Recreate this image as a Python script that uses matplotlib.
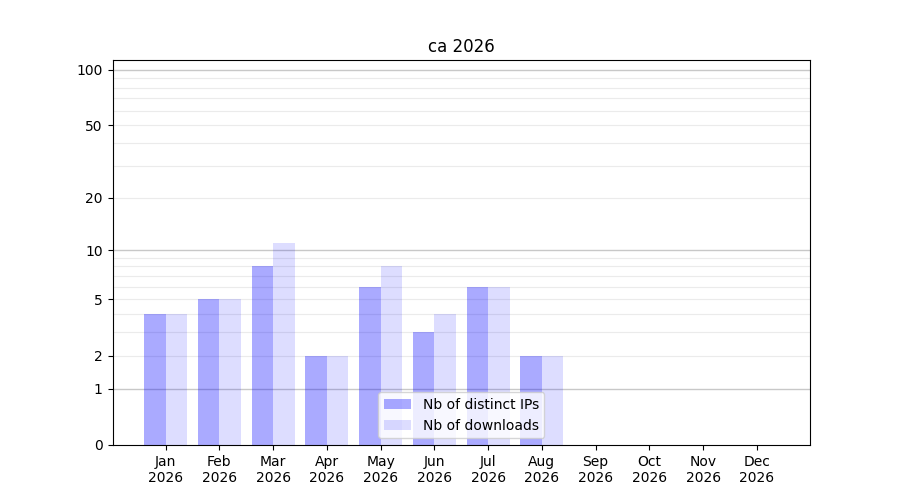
import numpy as np
import matplotlib
matplotlib.use("Agg")
import matplotlib.pyplot as plt

months = ["Jan", "Feb", "Mar", "Apr", "May", "Jun", "Jul", "Aug", "Sep", "Oct", "Nov", "Dec"]
year = "2026"
ips = [4, 5, 8, 2, 6, 3, 6, 2, 0, 0, 0, 0]
downloads = [4, 5, 11, 2, 8, 4, 6, 2, 0, 0, 0, 0]
ytick_vals = [0, 1, 2, 5, 10, 20, 50, 100]
major_grid = [1, 10, 100]
minor_grid = [2, 3, 4, 5, 6, 7, 8, 9, 20, 30, 40, 50, 60, 70, 80, 90]

def fwd(x):
    x = np.asarray(x, dtype=float)
    return np.log10(1 + np.clip(x, 0, None))

def inv(y):
    return 10 ** np.asarray(y, dtype=float) - 1

fig, ax = plt.subplots(figsize=(9, 5), dpi=100)
ax.set_yscale("function", functions=(fwd, inv))

x = np.arange(len(months))
w = 0.4
for v in minor_grid:
    ax.axhline(v, color="#ebebeb", lw=0.8, zorder=0)
for v in major_grid:
    ax.axhline(v, color="#c8c8c8", lw=1.0, zorder=0)

ax.bar(x - w / 2, ips, width=w, color="blue", alpha=0.333, label="Nb of distinct IPs", zorder=2)
ax.bar(x + w / 2, downloads, width=w, color="blue", alpha=0.133, label="Nb of downloads", zorder=2)

ax.set_xticks(x)
ax.set_xticklabels([f"{m}\n{year}" for m in months])
ax.set_yticks(ytick_vals)
ax.set_yticklabels([str(v) for v in ytick_vals])
ax.yaxis.set_minor_locator(matplotlib.ticker.NullLocator())
ax.set_ylim(0, 113)
ax.set_title("ca 2026")
ax.legend(loc="lower center")

fig.savefig("out.png", dpi=100)
